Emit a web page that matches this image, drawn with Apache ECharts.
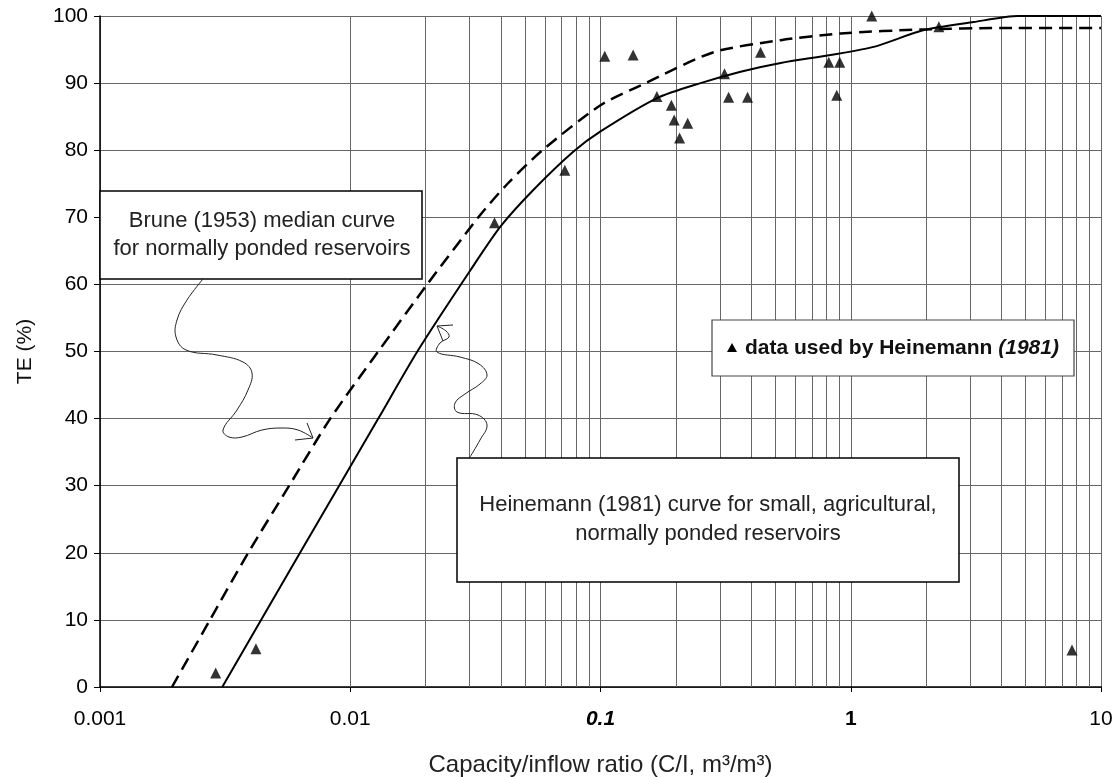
<!DOCTYPE html>
<html>
<head>
<meta charset="utf-8">
<script src="https://cdn.jsdelivr.net/npm/echarts@6/dist/echarts.min.js"></script>
<style>
  html, body { margin: 0; padding: 0; background: #fff; }
  #chart { width: 1118px; height: 777px; }
</style>
</head>
<body>
<div id="chart"></div>
<script>
// Brune (1953) median curve, dashed
var brunePts = [
  [0.00194, 0], [0.00275, 10], [0.00391, 20], [0.0057, 30], [0.00832, 40],
  [0.01294, 50], [0.0203, 60], [0.0325, 70], [0.0425, 75], [0.0586, 80],
  [0.1, 86.7], [0.1514, 90], [0.283, 94.6], [0.525, 96.4],
  [0.912, 97.4], [1.96, 98.0], [3.98, 98.2], [10, 98.2]
];
// Heinemann (1981) curve, solid
var heinemannPts = [
  [0.00308, 0], [0.0063, 20], [0.01294, 40], [0.01854, 50], [0.0302, 62.1],
  [0.0398, 68.6], [0.054, 74.1], [0.078, 79.8], [0.1, 82.8], [0.169, 87.8],
  [0.251, 90], [0.363, 91.7], [0.525, 93], [0.832, 94.2],
  [1.236, 95.4], [1.96, 97.9], [3.1, 99.1], [4.66, 100], [10, 100]
];
// data used by Heinemann (1981)
var heinemannData = [
  [0.0029, 2.1], [0.0042, 5.7], [0.0377, 69.2], [0.072, 77], [0.104, 94],
  [0.135, 94.2], [0.168, 88], [0.192, 86.7], [0.197, 84.5], [0.207, 81.8],
  [0.223, 84], [0.313, 91.4], [0.325, 87.9], [0.387, 87.9], [0.436, 94.6],
  [0.817, 93.1], [0.879, 88.2], [0.904, 93.1], [1.213, 100], [2.25, 98.4],
  [7.66, 5.5]
];
var xTickLabels = ['0.001', '0.01', '0.1', '1', '10'];

// minor log gridlines (2..9 in each decade)
var minorGrid = [];
for (var k = -3; k < 1; k++) {
  for (var d = 2; d <= 9; d++) {
    minorGrid.push({ xAxis: d * Math.pow(10, k) });
  }
}

var chart = echarts.init(document.getElementById('chart'));
var FONT = '"Liberation Sans", Arial, sans-serif';
var gridColor = '#666';

var option = {
  backgroundColor: '#fff',
  animation: false,
  grid: { left: 100, right: 17, top: 16, bottom: 90, containLabel: false, outerBoundsMode: 'none' },
  xAxis: {
    type: 'log',
    logBase: 10,
    min: 0.001,
    max: 10,
    name: 'Capacity/inflow ratio (C/I, m\u00b3/m\u00b3)',
    nameLocation: 'middle',
    nameGap: 66,
    nameTextStyle: { fontFamily: FONT, fontSize: 24, color: '#222' },
    axisLine: { lineStyle: { color: '#000', width: 1.5 } },
    axisTick: { show: true, length: 5, lineStyle: { color: '#000' } },
    axisLabel: {
      margin: 22,
      fontFamily: FONT,
      fontSize: 21,
      color: '#000',
      formatter: function (v) {
        var i = Math.round(Math.log(v) / Math.LN10) + 3;
        var t = xTickLabels[i];
        if (t === '0.1') return '{it|' + t + '}';
        if (t === '1') return '{bd|' + t + '}';
        return t;
      },
      rich: {
        it: { fontFamily: FONT, fontSize: 21, fontStyle: 'italic', fontWeight: 'bold', color: '#000' },
        bd: { fontFamily: FONT, fontSize: 21, fontWeight: 'bold', color: '#000' }
      }
    },
    splitLine: { show: true, lineStyle: { color: gridColor, width: 1 } }
  },
  yAxis: {
    type: 'value',
    min: 0,
    max: 100,
    interval: 10,
    name: 'TE (%)',
    nameLocation: 'middle',
    nameRotate: 90,
    nameGap: 64,
    nameTextStyle: { fontFamily: FONT, fontSize: 21, color: '#111' },
    axisLine: { show: true, lineStyle: { color: '#000', width: 1.5 } },
    axisTick: { show: true, length: 6, lineStyle: { color: '#000' } },
    axisLabel: { margin: 12, fontFamily: FONT, fontSize: 21, color: '#000' },
    splitLine: { show: true, lineStyle: { color: gridColor, width: 1 } }
  },
  series: [
    {
      type: 'line',
      data: [],
      silent: true,
      markLine: {
        silent: true,
        symbol: 'none',
        label: { show: false },
        lineStyle: { color: gridColor, width: 1, type: 'solid' },
        data: minorGrid
      }
    },
    {
      name: 'Brune (1953)',
      type: 'line',
      data: brunePts,
      smooth: 0.25,
      showSymbol: false,
      lineStyle: { color: '#000', width: 2.5, type: [13, 7] },
      z: 5
    },
    {
      name: 'Heinemann (1981)',
      type: 'line',
      data: heinemannPts,
      smooth: 0.25,
      showSymbol: false,
      lineStyle: { color: '#000', width: 2 },
      z: 5
    },
    {
      name: 'data used by Heinemann (1981)',
      type: 'scatter',
      data: heinemannData,
      symbol: 'triangle',
      symbolSize: 11,
      itemStyle: { color: '#000' },
      z: 6
    }
  ],
  graphic: [
    // Brune box
    { type: 'rect', z: 100, shape: { x: 100, y: 191, width: 322, height: 88 },
      style: { fill: '#fff', stroke: '#000', lineWidth: 1.5 } },
    { type: 'text', z: 101, style: { text: 'Brune (1953) median curve', x: 262, y: 221,
      align: 'center', verticalAlign: 'middle', fontFamily: FONT, fontSize: 22, fill: '#222' } },
    { type: 'text', z: 101, style: { text: 'for normally ponded reservoirs', x: 262, y: 249,
      align: 'center', verticalAlign: 'middle', fontFamily: FONT, fontSize: 22, fill: '#222' } },
    // Brune squiggle arrow
    { type: 'polyline', z: 100, shape: { smooth: 0.4, points: [
      [203, 279], [187, 300], [177, 320], [176, 337], [186, 350], [217, 355], [243, 362],
      [252, 373], [248, 390], [237, 410], [223, 430], [229, 437], [242, 437], [262, 430],
      [282, 428], [298, 430], [313, 438]] },
      style: { stroke: '#222', lineWidth: 1, fill: null } },
    { type: 'polyline', z: 100, shape: { points: [[295, 440], [313, 438], [307, 423]] },
      style: { stroke: '#222', lineWidth: 1, fill: null } },
    // legend box
    { type: 'rect', z: 100, shape: { x: 712, y: 320, width: 362, height: 56 },
      style: { fill: '#fff', stroke: '#444', lineWidth: 1.2 } },
    { type: 'polygon', z: 101, shape: { points: [[732, 343], [727, 352], [737, 352]] },
      style: { fill: '#000' } },
    { type: 'text', z: 101, style: {
      text: '{a|data used by Heinemann }{b|(1981)}', x: 745, y: 348,
      align: 'left', verticalAlign: 'middle',
      rich: {
        a: { fontFamily: FONT, fontSize: 21, fontWeight: 'bold', fill: '#111', color: '#111' },
        b: { fontFamily: FONT, fontSize: 21, fontWeight: 'bold', fontStyle: 'italic', fill: '#111', color: '#111' }
      } } },
    // Heinemann box
    { type: 'rect', z: 100, shape: { x: 457, y: 458, width: 502, height: 124 },
      style: { fill: '#fff', stroke: '#000', lineWidth: 1.5 } },
    { type: 'text', z: 101, style: { text: 'Heinemann (1981) curve for small, agricultural,', x: 708, y: 505,
      align: 'center', verticalAlign: 'middle', fontFamily: FONT, fontSize: 22, fill: '#222' } },
    { type: 'text', z: 101, style: { text: 'normally ponded reservoirs', x: 708, y: 534,
      align: 'center', verticalAlign: 'middle', fontFamily: FONT, fontSize: 22, fill: '#222' } },
    // Heinemann squiggle arrow
    { type: 'polyline', z: 100, shape: { smooth: 0.4, points: [
      [470, 457], [480, 440], [487, 425], [478, 415], [457, 412], [455, 403], [465, 394],
      [480, 384], [487, 375], [479, 364], [460, 357], [437, 352], [440, 343], [449, 337],
      [446, 331], [437, 326]] },
      style: { stroke: '#222', lineWidth: 1, fill: null } },
    { type: 'polyline', z: 100, shape: { points: [[453, 325], [437, 326], [443, 341]] },
      style: { stroke: '#222', lineWidth: 1, fill: null } }
  ]
};

chart.setOption(option);
</script>
</body>
</html>
